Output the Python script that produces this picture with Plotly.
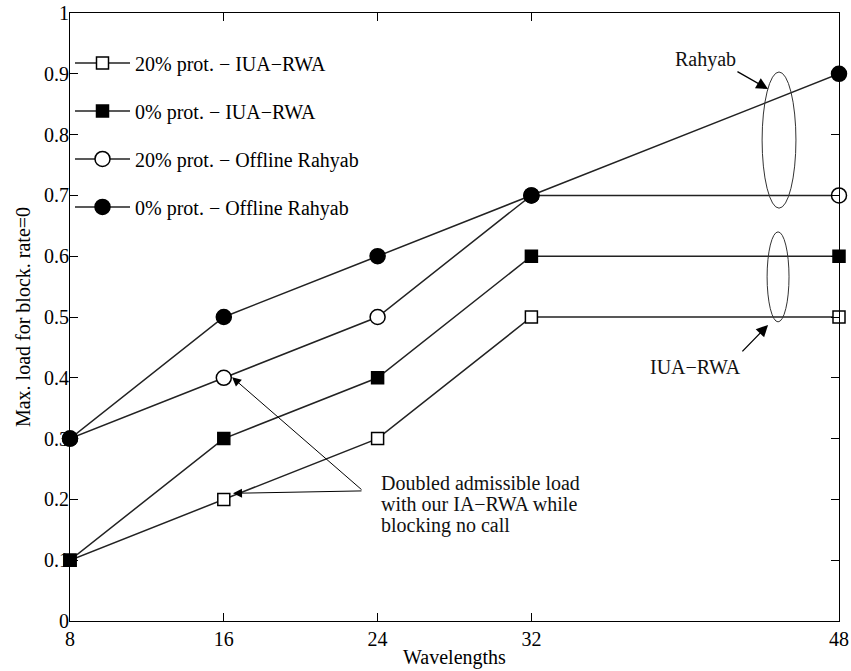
import plotly.graph_objects as go

# Number of wavelengths per link
wavelengths = [8, 16, 24, 32, 48]

# Maximum load giving zero blocking rate, per scheme
iua_20 = [0.1, 0.2, 0.3, 0.5, 0.5]
iua_0 = [0.1, 0.3, 0.4, 0.6, 0.6]
rahyab_20 = [0.3, 0.4, 0.5, 0.7, 0.7]
rahyab_0 = [0.3, 0.5, 0.6, 0.7, 0.9]

series_names = [
    "20% prot. \u2212 IUA\u2212RWA",
    "0% prot. \u2212 IUA\u2212RWA",
    "20% prot. \u2212 Offline Rahyab",
    "0% prot. \u2212 Offline Rahyab",
]
series_values = [iua_20, iua_0, rahyab_20, rahyab_0]
series_symbols = ["square", "square", "circle", "circle"]
series_fill = ["white", "black", "white", "black"]
series_size = [12, 12, 15, 15]

y_ticks = [0, 0.1, 0.2, 0.3, 0.4, 0.5, 0.6, 0.7, 0.8, 0.9, 1]
y_tick_text = ["0", "0.1", "0.2", "0.3", "0.4", "0.5", "0.6", "0.7", "0.8", "0.9", "1"]

note_lines = ["Doubled admissible load", "with our IA\u2212RWA while", "blocking no call"]
note_y = [0.227, 0.192, 0.157]

FONT = "Liberation Serif, Times New Roman, serif"
FS = 20

fig = go.Figure()
for i, (name, vals) in enumerate(zip(series_names, series_values)):
    fig.add_trace(go.Scatter(
        x=wavelengths, y=vals, name=name, mode="lines+markers",
        legendgroup=f"g{i}",
        line=dict(color="#222222", width=1.5),
        marker=dict(symbol=series_symbols[i], size=series_size[i],
                    color=series_fill[i], line=dict(color="black", width=1.5)),
        cliponaxis=False,
    ))

# Ellipses grouping the curves at 48 wavelengths
fig.add_shape(type="circle", xref="x", yref="y", x0=44.0, x1=45.76, y0=0.679, y1=0.903,
              line=dict(color="#333333", width=1))
fig.add_shape(type="circle", xref="x", yref="y", x0=44.26, x1=45.40, y0=0.492, y1=0.640,
              line=dict(color="#333333", width=1))

ann_font = dict(family=FONT, size=FS, color="#111111")

# Group labels with arrows pointing at the ellipses
fig.add_annotation(x=41.03, y=0.924, text="Rahyab", showarrow=False, font=ann_font)
fig.add_annotation(x=44.31, y=0.875, ax=42.64, ay=0.905, axref="x", ayref="y",
                   text="", showarrow=True, arrowhead=2, arrowsize=1.8, arrowwidth=1.3,
                   arrowcolor="black")
fig.add_annotation(x=40.56, y=0.418, text="IUA\u2212RWA", showarrow=False, font=ann_font)
fig.add_annotation(x=44.31, y=0.487, ax=42.90, ay=0.441, axref="x", ayref="y",
                   text="", showarrow=True, arrowhead=2, arrowsize=1.8, arrowwidth=1.3,
                   arrowcolor="black")

# Comment on the 16-wavelength points
for line, yl in zip(note_lines, note_y):
    fig.add_annotation(x=24.07, y=yl, xanchor="left", align="left", showarrow=False,
                       text=line, font=ann_font)
fig.add_annotation(x=16.43, y=0.401, ax=23.24, ay=0.214, axref="x", ayref="y",
                   text="", showarrow=True, arrowhead=2, arrowsize=1.8, arrowwidth=1,
                   arrowcolor="black")
fig.add_annotation(x=16.48, y=0.21, ax=23.24, ay=0.214, axref="x", ayref="y",
                   text="", showarrow=True, arrowhead=2, arrowsize=1.8, arrowwidth=1,
                   arrowcolor="black")

axis_common = dict(
    showline=True, linecolor="black", linewidth=1, mirror="ticks",
    ticks="inside", ticklen=8, tickcolor="black", showgrid=False, zeroline=False,
    automargin=False,
    tickfont=dict(family=FONT, size=FS, color="black"),
)

fig.update_xaxes(range=[8, 48], tickvals=wavelengths, ticktext=[str(w) for w in wavelengths],
                 title=dict(text="Wavelengths", font=dict(family=FONT, size=FS, color="black"),
                            standoff=0),
                 **axis_common)
fig.update_yaxes(range=[0, 1], tickvals=y_ticks, ticktext=y_tick_text,
                 ticklabelstandoff=-4,
                 title=dict(text="Max. load for block. rate=0",
                            font=dict(family=FONT, size=FS, color="black"), standoff=8),
                 **axis_common)

fig.update_layout(
    width=851, height=671,
    margin=dict(l=70, r=12, t=13, b=50),
    paper_bgcolor="white", plot_bgcolor="white",
    showlegend=True,
    legend=dict(x=0.0, y=0.95, xanchor="left", yanchor="top",
                bgcolor="rgba(0,0,0,0)", borderwidth=0,
                font=dict(family=FONT, size=FS, color="black"),
                tracegroupgap=19, itemwidth=55),
)

fig.write_html("out.html")
